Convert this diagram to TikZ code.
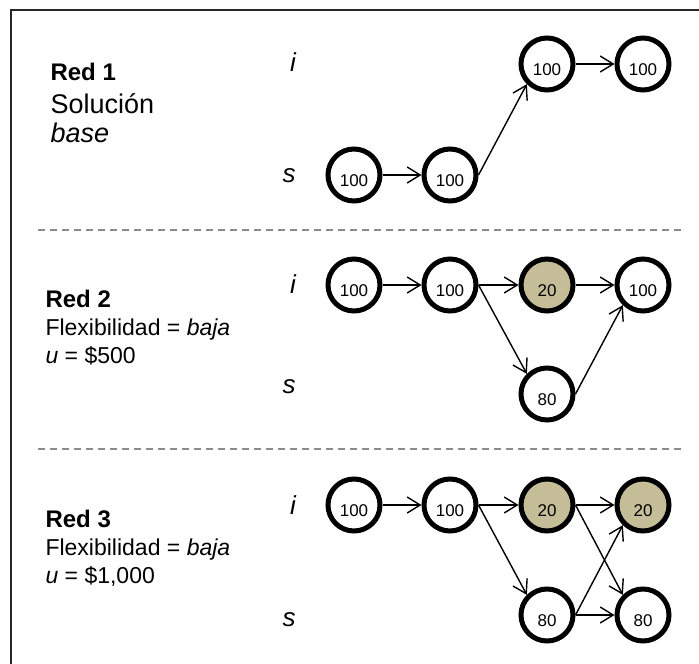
\documentclass[tikz,border=0pt]{standalone}
\usepackage{fontspec}
\setmainfont{Liberation Sans}
\usetikzlibrary{arrows.meta}
\definecolor{caqui}{RGB}{196,189,151}

\begin{document}
\begin{tikzpicture}[x=1pt,y=-1pt,>={Straight Barb[length=13pt,width=16pt]},
  nodo/.style={circle,draw,line width=5pt,minimum size=52pt,inner sep=0pt,
    text height=23pt,text depth=0pt,font=\fontsize{17}{17}\selectfont},
  lleno/.style={nodo,fill=caqui},
  flecha/.style={->,line width=1.4pt},
  titulo/.style={anchor=base west,font=\fontsize{24}{24}\selectfont\bfseries},
  texto/.style={anchor=base west,font=\fontsize{23}{23}\selectfont},
  fila/.style={font=\fontsize{26}{26}\selectfont\itshape}]
\useasboundingbox (0,0) rectangle (699,664);
% marco y separadores
\draw[line width=2pt,black!85] (699,10) -- (11,10) -- (11,664);
\draw[black!45,line width=1.3pt,dash pattern=on 7pt off 5pt] (38,230) -- (683,230);
\draw[black!45,line width=1.3pt,dash pattern=on 7pt off 5pt] (38,449) -- (683,449);
%
% Red 1 :
\node[titulo] (t1) at (47,80) {Red 1};
\node[anchor=base west,font=\fontsize{27}{27}\selectfont] (t1b) at (47,113) {Solución};
\node[anchor=base west,font=\fontsize{27}{27}\selectfont\itshape] (t1c) at (47,142) {base};
\node[fila] (i1) at (293,62) {i};
\node[fila] (s1) at (289,176) {s};
\node[nodo] (r1a) at (354,175) {100};
\node[nodo] (r1b) at (450,175) {100};
\node[nodo] (r1c) at (547,64) {100};
\node[nodo] (r1d) at (643,64) {100};
\draw[flecha] (r1a) -- (r1b);
\draw[flecha] (r1b.east) -- (r1c.south west);
\draw[flecha] (r1c) -- (r1d);
%
% Red 2 :
\node[titulo] (t2) at (42,307) {Red 2};
\node[texto] (t2b) at (42,335) {Flexibilidad = \textit{baja}};
\node[texto] (t2c) at (42,363) {\textit{u} = \$500};
\node[fila] (i2) at (293,284) {i};
\node[fila] (s2) at (289,387) {s};
\node[nodo] (r2a) at (354,285) {100};
\node[nodo] (r2b) at (450,285) {100};
\node[lleno] (r2c) at (547,285) {20};
\node[nodo] (r2d) at (643,285) {100};
\node[nodo] (r2e) at (547,394) {80};
\draw[flecha] (r2a) -- (r2b);
\draw[flecha] (r2b) -- (r2c);
\draw[flecha] (r2b.east) -- (r2e.north west);
\draw[flecha] (r2c) -- (r2d);
\draw[flecha] (r2e.east) -- (r2d.south west);
%
% Red 3 :
\node[titulo] (t3) at (42,527) {Red 3};
\node[texto] (t3b) at (42,555) {Flexibilidad = \textit{baja}};
\node[texto] (t3c) at (42,583) {\textit{u} = \$1,000};
\node[fila] (i3) at (293,505) {i};
\node[fila] (s3) at (289,620) {s};
\node[nodo] (r3a) at (354,505) {100};
\node[nodo] (r3b) at (450,505) {100};
\node[lleno] (r3c) at (547,505) {20};
\node[lleno] (r3d) at (643,505) {20};
\node[nodo] (r3e) at (547,615) {80};
\node[nodo] (r3f) at (643,615) {80};
\draw[flecha] (r3a) -- (r3b);
\draw[flecha] (r3b) -- (r3c);
\draw[flecha] (r3b.east) -- (r3e.north west);
\draw[flecha] (r3c) -- (r3d);
\draw[flecha] (r3c.east) -- (r3f.north west);
\draw[flecha] (r3e.east) -- (r3d.south west);
\draw[flecha] (r3e) -- (r3f);
\end{tikzpicture}
\end{document}
